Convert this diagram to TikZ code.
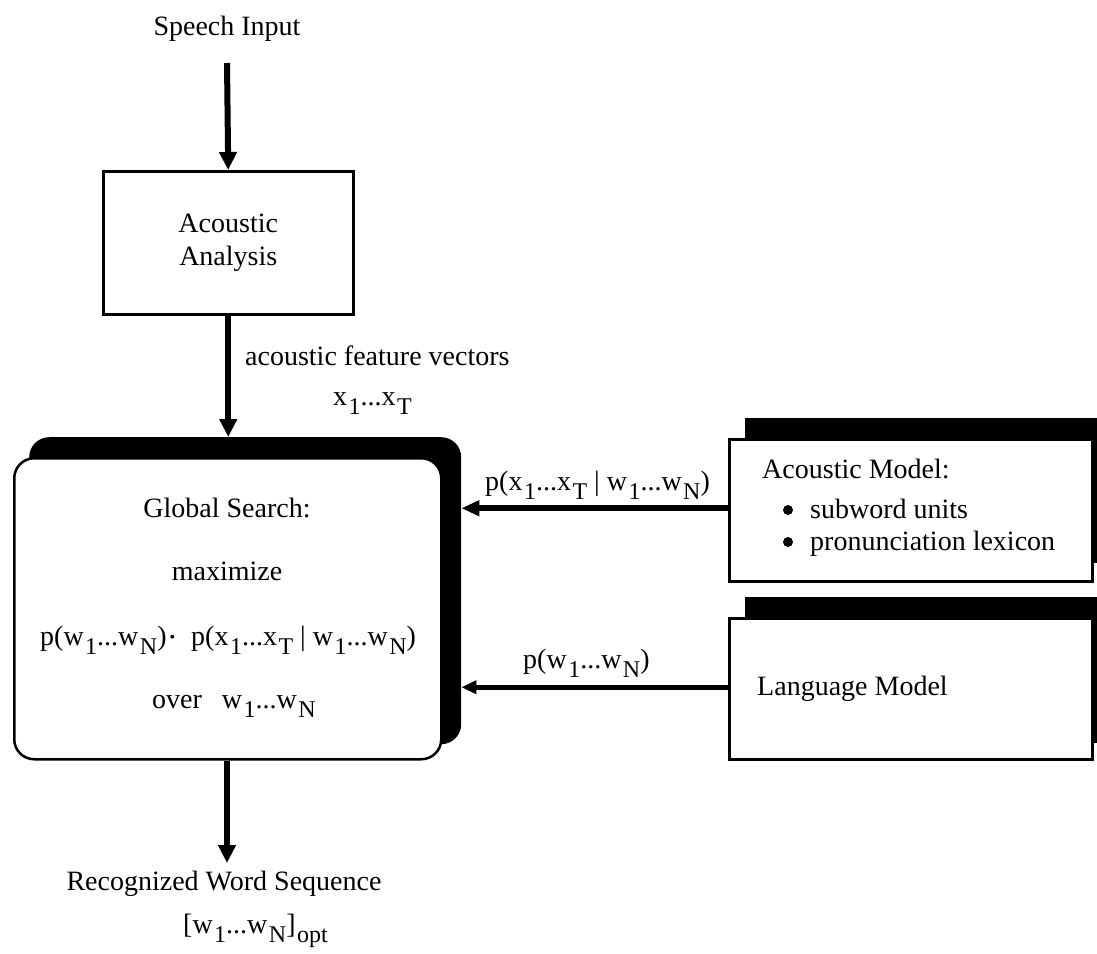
\documentclass[tikz,border=0pt]{standalone}
\usepackage{fontspec}
\setmainfont{Liberation Serif}
\usetikzlibrary{arrows.meta}
\newcommand{\sbx}[1]{\kern1.5pt\raisebox{-9pt}{\fontsize{24}{24}\selectfont #1}}
\newcommand{\dotop}{\raisebox{3pt}{\fontsize{16}{16}\selectfont •}}
\newcommand{\givenbar}{\kern7pt|\kern7pt}
\begin{document}
\begin{tikzpicture}[x=1pt,y=-1pt,
  txt/.style={font=\fontsize{28}{33}\selectfont, inner sep=0pt},
  plainbox/.style={draw=black, line width=2.5pt, fill=white, inner sep=0pt},
  shadowbox/.style={fill=black, draw=none, inner sep=0pt},
  bulletdot/.style={circle, fill=black, inner sep=0pt, minimum size=10pt},
  varr/.style={line width=6pt, -{Triangle[length=18pt,width=17pt]}},
  harr/.style={line width=6pt, -{Triangle[length=18pt,width=15pt]}},
  harrthin/.style={line width=4.5pt, -{Triangle[length=15pt,width=13pt]}}
]
\useasboundingbox (0,0) rectangle (1097,953);

% Speech input and acoustic analysis
\node[txt, anchor=base] (speech) at (227,35) {Speech Input};
\node[plainbox, minimum width=250pt, minimum height=143pt, anchor=north west,
      txt, align=center] (aa) at (102,170) {Acoustic\\Analysis};

% Global search
\node[shadowbox, rounded corners=20pt, minimum width=432pt, minimum height=307pt,
      anchor=north west] (gsShadow) at (29,437) {};
\node[plainbox, rounded corners=20pt, minimum width=427pt, minimum height=301pt,
      anchor=north west] (gs) at (13,457) {};
\node[txt, anchor=base] (gs1) at (227,517) {Global Search:};
\node[txt, anchor=base] (gs2) at (227,580) {maximize};
\node[txt, anchor=base west] (gs3) at (40,645)
  {p(w\sbx{1}...w\sbx{N})\kern3pt\dotop\kern16pt p(x\sbx{1}...x\sbx{T}\givenbar w\sbx{1}...w\sbx{N})};
\node[txt, anchor=base west] (gs4) at (152,708) {over\kern20pt w\sbx{1}...w\sbx{N}};

% Acoustic model
\node[shadowbox, minimum width=365pt, minimum height=145pt, anchor=north west]
  (amShadow) at (745,418) {};
\node[plainbox, minimum width=363pt, minimum height=142pt, anchor=north west]
  (am) at (728,438) {};
\node[txt, anchor=base west] (am1) at (762,478) {Acoustic Model:};
\node[bulletdot] (b1) at (788,510) {};
\node[txt, anchor=base west] (am2) at (810,518) {subword units};
\node[bulletdot] (b2) at (788,542) {};
\node[txt, anchor=base west] (am3) at (810,550) {pronunciation lexicon};

% Language model
\node[shadowbox, minimum width=365pt, minimum height=146pt, anchor=north west]
  (lmShadow) at (745,597) {};
\node[plainbox, minimum width=363pt, minimum height=141pt, anchor=north west]
  (lm) at (728,617) {};
\node[txt, anchor=base west] (lm1) at (757,695) {Language Model};

% Labels
\node[txt, anchor=base west] (fv) at (245,365) {acoustic feature vectors};
\node[txt, anchor=base west] (xs) at (333,405) {x\sbx{1}...x\sbx{T}};
\node[txt, anchor=base west] (amlab) at (485,490)
  {p(x\sbx{1}...x\sbx{T}\givenbar w\sbx{1}...w\sbx{N})};
\node[txt, anchor=base west] (lmlab) at (523,668) {p(w\sbx{1}...w\sbx{N})};

% Output
\node[txt, anchor=base] (rec) at (224,890) {Recognized Word Sequence};
\node[txt, anchor=base west] (recw) at (183,933) {[w\sbx{1}...w\sbx{N}]\sbx{opt}};

% Connectors
\coordinate (sIn) at (227,63);
\coordinate (sOut) at (227,863);
\draw[varr] (sIn) -- (aa.north);
\draw[varr] (aa.south) -- (aa.south |- gsShadow.north);
\draw[harr] ([yshift=2pt]am.west) -- ([yshift=2pt]am.west -| gsShadow.east);
\draw[harrthin] ([yshift=1.5pt]lm.west) -- ([yshift=1.5pt]lm.west -| gsShadow.east);
\draw[varr] (gs.south -| sIn) -- (sOut);
\end{tikzpicture}
\end{document}
